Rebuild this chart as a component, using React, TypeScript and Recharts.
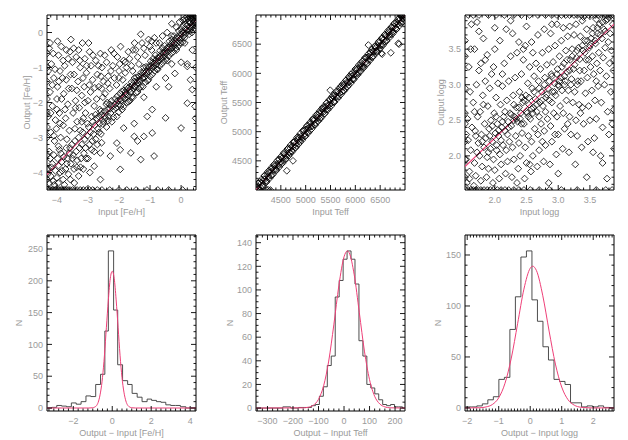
import React from "react";
import { ComposedChart, Scatter, Line, XAxis, YAxis, ReferenceArea } from "recharts";

const INK = "#000";
const LABEL = "#9a9a9a";
const FIT = "#ef3f78";
const STEP = "#3a3a3a";
const FONT = "'Liberation Sans', 'DejaVu Sans', sans-serif";

// ---------- top row: input vs output ----------
const FEH_BAND: [number, number][] = [
  [-4.28,-3.9],[-4.25,-4.3],[-4.22,-3.6],[-4.2,-4.1],[-4.15,-3.75],[-4.12,-4.25],[-4.1,-3.5],[-4.05,-3.95],
  [-4.0,-4.15],[-3.98,-3.6],[-3.95,-3.8],[-3.9,-4.0],[-3.87,-3.45],[-3.85,-3.7],[-3.8,-4.2],[-3.78,-3.55],
  [-3.72,-3.9],[-3.7,-3.3],[-3.66,-3.6],[-3.63,-4.05],[-3.6,-3.45],[-3.55,-3.75],[-3.52,-3.2],[-3.48,-3.5],
  [-3.45,-3.9],[-3.42,-3.1],[-3.38,-3.4],[-3.35,-3.65],[-3.3,-3.0],[-3.27,-3.3],[-3.24,-3.85],[-3.2,-3.2],
  [-3.17,-2.85],[-3.13,-3.45],[-3.1,-3.05],[-3.06,-3.6],[-3.02,-2.95],[-2.98,-2.7],[-2.95,-3.2],[-2.92,-2.85],
  [-2.88,-3.35],[-2.85,-2.55],[-2.82,-2.9],[-2.78,-2.65],[-2.75,-3.05],[-2.72,-2.45],[-2.68,-2.75],[-2.65,-2.4],
  [-2.62,-2.6],[-2.58,-2.9],[-2.55,-2.35],[-2.5,-2.55],[-2.47,-2.25],[-2.44,-2.45],[-2.4,-2.7],[-2.37,-2.2],
  [-2.33,-2.4],[-2.3,-2.05],[-2.27,-2.3],[-2.23,-2.55],[-2.2,-2.1],[-2.17,-2.2],[-2.13,-1.9],[-2.1,-2.15],
  [-2.07,-2.4],[-2.04,-1.95],[-2.0,-2.05],[-1.97,-1.75],[-1.94,-1.95],[-1.9,-2.2],[-1.87,-1.85],[-1.84,-1.65],
  [-1.81,-1.9],[-1.78,-1.75],[-1.75,-2.0],[-1.72,-1.6],[-1.69,-1.8],[-1.66,-1.55],[-1.63,-1.7],[-1.6,-1.85],
  [-1.57,-1.5],[-1.54,-1.6],[-1.51,-1.4],[-1.48,-1.55],[-1.45,-1.72],[-1.42,-1.38],[-1.39,-1.45],[-1.36,-1.25],
  [-1.33,-1.4],[-1.3,-1.55],[-1.27,-1.22],[-1.24,-1.3],[-1.21,-1.12],[-1.18,-1.28],[-1.15,-1.42],[-1.12,-1.1],
  [-1.09,-1.18],[-1.06,-0.98],[-1.03,-1.12],[-1.0,-1.25],[-0.97,-0.95],[-0.94,-1.02],[-0.91,-0.85],[-0.88,-0.98],
  [-0.85,-1.1],[-0.82,-0.8],[-0.79,-0.9],[-0.76,-0.72],[-0.73,-0.82],[-0.7,-0.95],[-0.67,-0.68],[-0.64,-0.75],
  [-0.61,-0.58],[-0.58,-0.7],[-0.55,-0.82],[-0.52,-0.55],[-0.49,-0.6],[-0.46,-0.45],[-0.43,-0.55],[-0.4,-0.68],
  [-0.37,-0.42],[-0.34,-0.48],[-0.31,-0.32],[-0.28,-0.42],[-0.25,-0.55],[-0.22,-0.3],[-0.19,-0.35],[-0.16,-0.18],
  [-0.13,-0.3],[-0.1,-0.4],[-0.07,-0.15],[-0.04,-0.2],[-0.01,-0.05],[0.02,-0.15],[0.05,-0.28],[0.08,0.0],
  [0.1,-0.08],[0.13,0.1],[0.16,-0.02],[0.19,0.2],[0.22,0.05],[0.25,0.3],[0.28,0.15],[0.31,0.4],
  [0.34,0.22],[0.37,0.45],[0.4,0.3],[0.43,0.48],[0.46,0.38],[0.45,0.2],[0.38,0.5],[0.3,0.5],[0.2,0.45],[0.15,0.35],
  [-1.95,-2.1],[-1.8,-1.7],[-1.65,-1.95],[-1.5,-1.3],[-1.35,-1.6],[-1.2,-1.0],[-1.05,-1.35],[-0.9,-0.75],
  [-0.75,-1.05],[-0.6,-0.45],[-0.45,-0.8],[-0.3,-0.2],[-0.15,-0.5],[0.0,0.1],[0.12,-0.3],[0.27,0.05],
  [0.42,0.12],[0.35,0.0],[0.47,0.45],[0.47,0.1],
  [-2.58,-2.25],[-2.52,-2.62],[-2.46,-2.38],[-2.41,-2.05],[-2.35,-2.52],[-2.29,-2.18],[-2.24,-1.95],[-2.18,-2.42],
  [-2.12,-2.05],[-2.06,-1.82],[-2.01,-2.28],[-1.96,-1.9],[-1.91,-1.68],[-1.86,-2.12],[-1.8,-1.78],[-1.76,-1.55],
  [-1.7,-1.98],[-1.65,-1.62],[-1.6,-1.42],[-1.55,-1.85],[-1.5,-1.52],[-1.44,-1.28],[-1.4,-1.7],[-1.34,-1.35],
  [-1.29,-1.15],[-1.23,-1.55],[-1.18,-1.18],[-1.13,-0.98],[-1.08,-1.38],[-1.02,-1.0],[-0.98,-0.82],[-0.93,-1.2],
  [-0.87,-0.88],[-0.83,-0.65],[-0.78,-1.05],[-0.72,-0.72],[-0.68,-0.52],[-0.62,-0.9],[-0.57,-0.58],[-0.53,-0.38],
  [-0.47,-0.75],[-0.42,-0.42],[-0.38,-0.25],[-0.32,-0.6],[-0.27,-0.28],[-0.23,-0.1],[-0.17,-0.45],[-0.12,-0.12],
  [-0.08,0.05],[-0.02,-0.3],[0.03,0.02],[0.07,0.18],[0.11,-0.15],[0.14,0.25],[0.18,0.08],[0.23,0.4],
  [0.26,-0.05],[0.29,0.28],[0.33,0.12],[0.36,0.38],[0.39,0.2],[0.41,0.42],[0.44,0.3],[0.46,0.5],
  [0.47,0.25],[0.32,0.48],[0.24,0.5],[0.12,0.4],[0.05,0.35],
  [-4.3,-4.05],[-4.18,-3.85],[-4.08,-4.35],[-3.96,-4.3],[-3.92,-3.35],[-3.83,-3.95],[-3.76,-4.35],[-3.68,-3.75],
  [-3.57,-4.2],[-3.5,-3.6],[-3.44,-4.3],[-3.36,-3.85],[-3.3,-4.1],[-3.22,-3.6],[-3.15,-3.9],[-3.08,-3.3],
  [-3.0,-3.6],[-2.94,-4.0],[-2.86,-3.1],[-2.8,-3.4],[-2.7,-3.2],[-2.64,-2.85],[-2.56,-3.15],
];

const FEH_SPREAD: [number, number][] = [
  [-4.25,-0.45],[-4.18,-0.9],[-4.1,-1.3],[-4.22,-1.7],[-4.15,-2.1],[-4.05,-2.5],[-4.2,-2.85],[-4.08,-3.1],
  [-4.25,-3.4],[-3.95,-0.65],[-3.9,-1.1],[-3.98,-1.55],[-3.85,-1.9],[-3.92,-2.3],[-3.8,-2.65],[-3.88,-3.0],
  [-3.75,-0.95],[-3.7,-1.35],[-3.78,-1.75],[-3.65,-2.05],[-3.72,-2.45],[-3.6,-2.8],[-3.55,-0.2],[-3.5,-0.85],
  [-3.45,-1.2],[-3.52,-1.6],[-3.4,-1.95],[-3.48,-2.3],[-3.35,-2.55],[-3.3,-0.5],[-3.25,-1.0],[-3.32,-1.4],
  [-3.2,-1.8],[-3.28,-2.15],[-3.15,-2.45],[-3.1,-0.75],[-3.05,-1.15],[-3.12,-1.55],[-3.0,-1.95],[-3.08,-2.3],
  [-2.95,-0.55],[-2.9,-0.95],[-2.85,-1.35],[-2.92,-1.7],[-2.8,-2.1],[-2.75,-0.8],[-2.7,-1.2],[-2.65,-1.55],
  [-2.72,-1.9],[-2.6,-0.6],[-2.55,-1.0],[-2.5,-1.4],[-2.45,-1.75],[-2.4,-0.85],[-2.35,-1.25],[-2.3,-1.6],
  [-2.25,-0.5],[-2.2,-0.95],[-2.15,-1.3],[-2.05,-0.7],[-2.0,-1.1],[-1.95,-0.4],[-1.85,-0.8],[-1.8,-1.15],
  [-1.7,-0.55],[-1.6,-0.95],[-1.5,-0.3],[-1.4,-0.7],[-1.3,-0.05],[-1.2,-0.45],[-1.05,-0.2],[-0.95,-0.5],
  [-0.8,-0.3],[-0.6,-0.1],[-0.45,0.0],[-0.3,-0.1],[-0.15,0.15],[-0.05,0.3],[-0.3,0.25],
  [-4.28,-1.1],[-4.28,-2.4],[-4.12,-0.6],[-4.0,-1.9],[-4.02,-2.75],[-3.95,-3.25],[-3.82,-1.3],[-3.62,-1.6],
  [-3.58,-0.55],[-3.42,-2.75],[-3.38,-0.7],[-3.18,-0.3],[-3.02,-2.6],[-2.88,-2.4],[-2.98,-0.3],[-2.62,-2.2],
  [-2.52,-1.85],[-2.38,-2.0],[-2.78,-1.58],[-2.58,-1.25],[-3.68,-3.05],[-3.58,-3.3],[-3.25,-2.8],
  [-4.22,-0.3],[-4.06,-1.05],[-3.94,-1.4],[-3.86,-0.4],[-3.74,-2.2],[-3.64,-0.75],[-3.56,-1.2],[-3.46,-0.45],
  [-3.36,-1.65],[-3.26,-0.8],[-3.16,-1.3],[-3.04,-0.95],[-2.96,-1.5],[-2.84,-0.65],[-2.76,-2.35],[-2.66,-0.95],
  [-2.56,-1.6],[-2.46,-0.65],[-2.36,-1.45],[-2.26,-1.1],[-2.16,-0.6],[-2.08,-1.5],[-1.98,-0.9],[-1.88,-1.35],
  [-1.76,-1.0],[-1.66,-0.75],[-1.56,-1.1],[-1.46,-0.5],[-1.36,-0.9],[-1.26,-0.3],[-1.16,-0.65],[-1.0,-0.4],
  [-0.86,-0.15],[-0.7,-0.3],[-4.15,-1.5],[-4.0,-2.2],[-3.9,-2.6],[-3.8,-0.8],[-4.1,-2.95],[-4.2,-2.3],
  [-3.98,-0.25],[-3.7,-0.5],[-3.4,-2.15],[-3.2,-2.55],[-3.1,-2.0],
  [-1.85,-2.73],[-1.51,-2.97],[-1.2,-2.97],[-1.4,-3.1],[-0.93,-2.87],[-0.87,-3.53],[-1.3,-3.63],[0.0,-2.73],
  [-0.5,-2.44],[0.2,-2.02],[0.45,-2.11],[0.36,-1.63],[0.3,-1.35],[0.2,-0.97],[0.36,-0.5],[-0.2,-1.17],
  [-0.4,-1.55],[-0.93,-2.2],[-1.09,-2.4],[-2.07,-3.16],[-1.96,-3.35],[-2.28,-3.53],[-2.6,-3.44],[-1.96,-3.91],
  [-2.6,-4.2],[-2.8,-3.82],[-1.62,-3.44],[-1.51,-2.6],[-1.2,-1.85],[-0.8,-1.55],[-0.5,-1.3],[-0.3,-0.9],
  [0.2,-0.9],[0.0,-0.85],[-1.55,-0.5],[-1.8,-0.85],[-2.0,-1.3],[-0.95,-0.25],[0.47,-1.0],[0.47,-2.45],
];

const FEH_EDGE: [number, number][] = [
  [-4.3,-4.5],[-4.25,-4.5],[-4.2,-4.5],[-4.15,-4.5],[-4.1,-4.5],[-4.05,-4.5],[-4.0,-4.5],[-3.95,-4.5],
  [-3.9,-4.5],[-3.85,-4.5],[-3.8,-4.5],[-3.75,-4.5],[-3.7,-4.5],[-3.64,-4.5],[-3.58,-4.5],[-3.5,-4.5],
  [-3.42,-4.5],[-3.35,-4.5],[-3.25,-4.5],[-3.15,-4.5],[-3.05,-4.5],[-2.95,-4.5],[-2.85,-4.5],[-2.7,-4.5],
  [-2.55,-4.5],[-2.3,-4.5],[-2.0,-4.5],[-1.75,-4.5],[-1.45,-4.5],[-1.1,-4.5],[-0.75,-4.5],[-0.4,-4.5],[0.05,-4.5],
  [-4.32,-0.6],[-4.32,-1.0],[-4.32,-1.4],[-4.32,-1.9],[-4.32,-2.3],[-4.32,-2.7],[-4.32,-3.0],[-4.32,-3.5],
  [-4.32,-3.9],[-4.32,-4.2],
];

const FEH_FIT = [{ x: -4.32, y: -4.06 }, { x: 0.48, y: 0.36 }];

const TEFF_IN = [
  4012,4036,4058,4085,4107,4133,4156,4181,4204,4230,4255,4278,4302,4327,4351,4374,4400,4423,4449,4472,
  4498,4521,4545,4570,4593,4618,4641,4667,4690,4716,4739,4763,4788,4811,4836,4860,4884,4909,4932,4957,
  4980,5005,5029,5053,5078,5101,5126,5150,5173,5199,5222,5247,5270,5295,5319,5342,5368,5391,5416,5439,
  5464,5488,5511,5536,5560,5583,5608,5632,5657,5680,5705,5729,5752,5777,5801,5825,5848,5874,5897,5921,
  5946,5969,5994,6018,6041,6066,6090,6113,6138,6162,6186,6209,6234,6257,6282,6306,6330,6353,6378,6402,
  6425,6450,6474,6497,6522,6546,6570,6593,6618,6641,6666,6690,6713,6738,6761,6786,6810,6833,6858,6881,
  6906,6929,6954,6977,6995,
  4025,4070,4120,4170,4215,4265,4312,4360,4410,4458,4507,4555,4605,4652,4700,4748,4797,4845,4893,4942,
  4990,5040,5088,5137,5185,5233,5282,5330,5378,5427,5475,5523,5572,5620,5668,5717,5765,5813,5862,5910,
  5958,6007,6055,6103,6152,6200,6248,6297,6345,6393,6442,6490,6538,6587,6635,6683,6732,6780,6828,6877,
  6925,6973,
  4620,4745,5495,6262,6525,6540,6715,6865,6880,4210,4240,4290,6900,6930,6960,
];
const TEFF_OUT = [
  4052,4026,4118,4050,4122,4078,4186,4186,4159,4280,4235,4303,4242,4372,4346,4409,4360,4433,4419,4527,
  4483,4541,4495,4610,4593,4583,4706,4642,4720,4671,4754,4813,4778,4756,4861,4900,4854,4914,4892,5017,
  4960,5040,4979,5063,5123,5086,5091,5205,5193,5154,5252,5242,5320,5235,5334,5382,5343,5426,5376,5449,
  5449,5543,5481,5561,5510,5628,5608,5597,5687,5660,5765,5684,5767,5817,5746,5845,5838,5924,5862,5946,
  5906,5974,6039,5993,6076,6016,6105,6143,6123,6117,6241,6189,6274,6227,6292,6356,6275,6378,6373,6437,
  6385,6470,6519,6472,6487,6606,6580,6543,6648,6626,6706,6660,6718,6793,6716,6806,6775,6878,6848,6911,
  6866,6979,6934,7002,6980,
  3995,4140,4065,4240,4150,4335,4250,4430,4345,4525,4440,4625,4540,4720,4635,4815,4730,4915,4825,5010,
  4925,5110,5020,5205,5120,5300,5215,5400,5310,5495,5410,5590,5505,5690,5600,5785,5700,5880,5795,5980,
  5890,6075,5990,6170,6085,6270,6180,6365,6280,6460,6375,6560,6470,6655,6570,6750,6665,6850,6760,6945,
  6860,7000,
  4330,4500,5710,6485,6345,6330,6352,6515,6500,4000,4005,4000,7000,7000,6995,
];
const TEFF_EXTRA: [number, number][] = [
  [4040,4115],[4075,3998],[4108,4180],[4140,4068],[4172,4250],[4205,4130],[4238,4312],[4270,4196],[4303,4378],[4336,4262],
  [4369,4442],[4401,4328],[4434,4508],[4467,4392],[4500,4572],[4532,4458],[4565,4640],[4598,4522],[4631,4702],[4663,4588],
  [4696,4770],[4729,4655],[4762,4832],[4794,4722],[4827,4898],[4860,4788],[4893,4968],[4925,4852],[4958,5032],[4991,4918],
  [5024,5098],[5056,4982],[5089,5162],[5122,5048],[5155,5228],[5187,5112],[5220,5292],[5253,5178],[5286,5358],[5318,5242],
  [5351,5422],[5384,5308],[5417,5488],[5449,5376],[5482,5552],[5515,5442],[5548,5618],[5580,5508],[5613,5684],[5646,5572],
  [5679,5752],[5711,5638],[5744,5818],[5777,5702],[5810,5882],[5842,5768],[5875,5948],[5908,5832],[5941,6012],[5973,5898],
  [6006,6078],[6039,5966],[6072,6142],[6104,6032],[6137,6208],[6170,6098],[6203,6272],[6235,6162],[6268,6338],[6301,6228],
  [6334,6408],[6366,6292],[6399,6472],[6432,6358],[6465,6538],[6497,6422],[6530,6602],[6563,6488],[6596,6668],[6628,6552],
  [6661,6732],[6694,6618],[6727,6798],[6759,6686],[6792,6862],[6825,6752],[6858,6928],[6890,6818],[6923,6995],[6956,6882],
  [6990,6962],
];
const TEFF_FIT = [{ x: 4000, y: 4000 }, { x: 7000, y: 7000 }];

const LOGG_POINTS: [number, number][] = [
  [1.56,1.62],[1.6,1.78],[1.55,1.95],[1.62,2.08],[1.58,2.22],[1.64,2.4],[1.57,2.52],[1.61,2.9],[1.59,3.25],[1.63,3.85],[1.55,2.3],[1.6,1.68],
  [1.67,1.58],[1.7,1.72],[1.68,1.9],[1.72,2.05],[1.74,2.18],[1.69,2.35],[1.73,2.55],[1.66,2.75],[1.71,3.0],[1.75,3.2],[1.68,3.5],[1.72,3.88],[1.7,2.28],
  [1.78,1.65],[1.8,1.85],[1.76,2.0],[1.83,2.12],[1.79,2.3],[1.84,2.45],[1.77,2.62],[1.81,2.85],[1.85,3.05],[1.78,3.3],[1.82,3.65],[1.8,2.2],
  [1.87,1.7],[1.9,1.82],[1.88,1.98],[1.93,2.1],[1.86,2.25],[1.91,2.38],[1.94,2.5],[1.89,2.7],[1.92,2.95],[1.95,3.15],[1.88,3.42],[1.9,2.05],
  [1.97,1.62],[2.0,1.8],[1.98,1.95],[2.03,2.08],[1.96,2.2],[2.01,2.32],[2.04,2.45],[1.99,2.6],[2.02,2.82],[2.05,3.02],[1.98,3.25],[2.0,3.5],[2.03,2.15],
  [2.07,1.68],[2.1,1.88],[2.08,2.02],[2.13,2.15],[2.06,2.28],[2.11,2.4],[2.14,2.55],[2.09,2.72],[2.12,2.98],[2.15,3.3],[2.08,3.62],[2.1,2.22],
  [2.17,1.75],[2.2,1.92],[2.18,2.08],[2.23,2.2],[2.16,2.35],[2.21,2.48],[2.24,2.6],[2.19,2.78],[2.22,3.05],[2.25,3.4],[2.18,3.78],[2.2,2.3],
  [2.27,1.7],[2.3,1.95],[2.28,2.12],[2.33,2.28],[2.26,2.42],[2.31,2.55],[2.34,2.68],[2.29,2.85],[2.32,3.1],[2.35,3.45],[2.28,3.72],[2.3,2.5],
  [2.37,1.82],[2.4,2.0],[2.38,2.18],[2.43,2.32],[2.36,2.48],[2.41,2.6],[2.44,2.75],[2.39,2.9],[2.42,3.15],[2.45,3.35],[2.38,3.6],[2.4,2.52],[2.43,2.82],
  [2.47,1.68],[2.5,1.9],[2.48,2.12],[2.53,2.28],[2.46,2.45],[2.51,2.6],[2.54,2.72],[2.49,2.85],[2.52,3.02],[2.55,3.25],[2.48,3.55],[2.5,3.82],[2.53,2.55],
  [2.57,1.78],[2.6,2.0],[2.58,2.2],[2.63,2.38],[2.56,2.52],[2.61,2.68],[2.64,2.8],[2.59,2.95],[2.62,3.12],[2.65,3.3],[2.58,3.6],[2.6,2.6],
  [2.67,1.85],[2.7,2.08],[2.68,2.3],[2.73,2.45],[2.66,2.62],[2.71,2.75],[2.74,2.9],[2.69,3.05],[2.72,3.22],[2.75,3.45],[2.68,3.7],[2.7,2.55],
  [2.77,1.92],[2.8,2.15],[2.78,2.35],[2.83,2.52],[2.76,2.7],[2.81,2.82],[2.84,2.95],[2.79,3.1],[2.82,3.28],[2.85,3.5],[2.78,3.78],[2.8,2.62],
  [2.87,1.88],[2.9,2.2],[2.88,2.42],[2.93,2.6],[2.86,2.78],[2.91,2.9],[2.94,3.02],[2.89,3.15],[2.92,3.32],[2.95,3.55],[2.88,3.72],[2.9,2.75],
  [2.97,2.02],[3.0,2.3],[2.98,2.55],[3.03,2.7],[2.96,2.85],[3.01,2.98],[3.04,3.1],[2.99,3.22],[3.02,3.4],[3.05,3.62],[2.98,3.85],[3.0,3.0],
  [3.07,2.1],[3.1,2.38],[3.08,2.6],[3.13,2.78],[3.06,2.92],[3.11,3.05],[3.14,3.18],[3.09,3.3],[3.12,3.48],[3.15,3.68],[3.08,3.8],[3.1,3.0],
  [3.17,2.05],[3.2,2.3],[3.18,2.55],[3.23,2.75],[3.16,2.92],[3.21,3.08],[3.24,3.22],[3.19,3.35],[3.22,3.5],[3.25,3.7],[3.18,3.82],[3.2,3.0],
  [3.27,1.88],[3.3,2.28],[3.28,2.5],[3.33,2.72],[3.26,2.9],[3.31,3.05],[3.34,3.2],[3.29,3.38],[3.32,3.52],[3.35,3.68],[3.28,3.85],[3.3,3.0],
  [3.37,2.12],[3.4,2.45],[3.38,2.68],[3.43,2.88],[3.36,3.05],[3.41,3.2],[3.44,3.35],[3.39,3.48],[3.42,3.62],[3.45,3.78],[3.38,3.9],
  [3.47,2.2],[3.5,2.5],[3.48,2.7],[3.53,2.92],[3.46,3.1],[3.51,3.25],[3.54,3.4],[3.49,3.52],[3.52,3.65],[3.55,3.8],[3.48,3.35],
  [3.57,2.25],[3.6,2.52],[3.58,2.78],[3.63,2.98],[3.56,3.15],[3.61,3.3],[3.64,3.45],[3.59,3.58],[3.62,3.72],[3.65,3.85],[3.6,3.05],
  [3.67,2.0],[3.7,2.4],[3.68,2.75],[3.73,3.0],[3.66,3.2],[3.71,3.38],[3.74,3.52],[3.69,3.65],[3.72,3.78],[3.75,3.9],
  [3.77,1.68],[3.8,2.3],[3.78,2.62],[3.83,2.9],[3.76,3.12],[3.81,3.3],[3.84,3.48],[3.79,3.6],[3.82,3.72],[3.86,3.85],[3.87,3.2],[3.88,2.1],
  [3.88,2.65],[3.88,3.35],
  [1.92,2.28],[1.96,2.42],[2.02,2.55],[2.06,2.36],[2.12,2.48],[2.16,2.62],[2.22,2.4],[2.26,2.58],[2.3,2.72],[2.34,2.52],
  [2.38,2.68],[2.42,2.45],[2.46,2.78],[2.5,2.62],[2.54,2.82],[2.58,2.66],[2.62,2.9],[2.66,2.72],[2.7,2.95],[2.74,2.78],
  [2.78,3.0],[2.82,2.86],[2.86,3.05],[2.9,3.12],[2.94,2.9],[2.98,3.15],[3.02,3.05],[3.06,3.25],[3.1,3.12],[3.14,3.35],
  [3.18,3.2],[3.22,3.4],[3.26,3.28],[3.3,3.48],[3.34,3.36],[3.38,3.55],[3.42,3.45],[3.46,3.62],[3.5,3.55],[3.54,3.72],
  [3.58,3.62],[3.62,3.8],[3.66,3.7],[3.7,3.88],[3.74,3.75],[3.78,3.92],
  [1.62,3.5],[1.75,3.75],[1.85,3.35],[2.0,3.8],[2.25,3.9],[2.45,3.5],[2.35,1.62],[2.55,1.88],[2.75,2.2],[2.95,2.3],
  [3.15,2.45],[3.35,2.6],[3.55,2.05],[3.7,1.9],[3.85,2.45],[2.85,1.62],[3.0,1.75],[3.45,1.7],[1.68,2.62],[1.82,2.72],
  [2.12,3.15],[2.6,3.45],[2.9,3.85],[3.4,3.95],[3.6,3.92],[3.8,3.95],
];
const LOGG_EDGE: [number, number][] = [
  [1.58,3.98],[1.66,3.98],[1.75,3.98],[1.9,3.98],[2.02,3.98],[2.15,3.98],[2.3,3.98],[2.42,3.98],[2.55,3.98],[2.68,3.98],
  [2.8,3.98],[2.9,3.98],[2.98,3.98],[3.05,3.98],[3.12,3.98],[3.18,3.98],[3.25,3.98],[3.3,3.98],[3.36,3.98],[3.42,3.98],
  [3.48,3.98],[3.53,3.98],[3.58,3.98],[3.63,3.98],[3.68,3.98],[3.72,3.98],[3.76,3.98],[3.8,3.98],[3.84,3.98],[3.87,3.98],
  [1.54,1.52],[1.58,1.52],[1.62,1.52],[1.66,1.52],[1.7,1.52],[1.74,1.52],[1.78,1.52],[1.83,1.52],[1.88,1.52],[1.93,1.52],
  [1.98,1.52],[2.04,1.52],[2.1,1.52],[2.16,1.52],[2.22,1.52],[2.3,1.52],[2.38,1.52],[2.46,1.52],[2.56,1.52],[2.7,1.52],
  [2.86,1.52],[3.05,1.52],[3.3,1.52],[3.6,1.52],[3.75,1.52],[3.85,1.52],
  [1.53,1.7],[1.53,1.95],[1.53,2.2],[1.53,2.45],[1.53,2.6],[1.53,2.95],[1.53,3.4],[1.53,3.62],
];
const LOGG_FIT = [{ x: 1.53, y: 1.85 }, { x: 3.88, y: 3.85 }];

// ---------- bottom row: histograms of output - input ----------
const FEH_BIN = [-3.35,-3.1,-2.85,-2.6,-2.35,-2.1,-1.85,-1.6,-1.35,-1.1,-0.85,-0.6,-0.38,-0.2,0.07,0.28,0.53,0.79,1.02,1.28,1.53,1.79,2.02,2.27,2.5,2.75,3.0,3.25,3.5,3.78];
const FEH_N = [0,1,4,3,2,8,6,10,19,18,37,53,121,247,154,68,43,37,23,17,10,14,12,10,9,5,4,4,2,0];
const FEH_GX = [-3.35,-1.2,-1.0,-0.9,-0.8,-0.7,-0.6,-0.5,-0.4,-0.3,-0.2,-0.1,0,0.1,0.2,0.3,0.4,0.5,0.6,0.7,0.8,0.9,1.0,1.2,4.3];
const FEH_GY = [0,0,0.4,1.5,4,11,25,48,83,127,170,204,215,204,170,127,83,48,25,11,4,1.5,0.4,0,0];

const TEFF_BIN = [-345,-240,-209,-178,-143,-127.5,-112,-96.5,-81,-65.5,-50,-34.5,-19,-3.5,12,27.5,43,58.5,74,89.5,105,120.5,136,151.5,167,182.5,198,213.5,229];
const TEFF_N = [0,1,0,0.5,0.5,2,3,10,18,36,44,94,108,126,133,126,105,57,44,20,17,12,7,3,2,3,1,1,0];
const TEFF_GX = [-345,-160,-140,-120,-100,-80,-60,-40,-20,0,13,20,40,60,80,100,120,140,160,180,239];
const TEFF_GY = [0,0.15,0.7,2.4,7.4,18.8,39.8,70.4,104,128,133,131.5,112.8,80.7,48.2,24,10,3.5,1,0.2,0];

const LOGG_BIN = [-2.07,-1.87,-1.695,-1.52,-1.345,-1.17,-0.995,-0.82,-0.645,-0.47,-0.295,-0.12,0.055,0.23,0.405,0.58,0.755,0.93,1.105,1.28,1.455,1.63,1.805,1.98,2.155,2.33,2.505];
const LOGG_N = [1,1,2,4,8,11,28,30,77,109,148,154,106,85,60,47,28,26,23,5,5,1,2,1,2,0.5,0];
const LOGG_GX = [-2.07,-1.6,-1.4,-1.2,-1.0,-0.8,-0.6,-0.4,-0.2,0,0.08,0.2,0.4,0.6,0.8,1.0,1.2,1.4,1.6,1.8,2.0,2.66];
const LOGG_GY = [0,0.2,1.0,3.4,9.9,24.2,48.9,82.6,116.5,137,139,134.6,110,75.4,43,20.5,8.1,2.7,0.7,0.2,0,0];

// ---------- helpers ----------
const pairs = (pts: [number, number][]) => pts.map(([x, y]) => ({ x, y }));
const zip = (xs: number[], ys: number[]) => xs.map((x, i) => ({ x, y: ys[i] }));
const steps = (edges: number[], counts: number[], end: number) =>
  [...zip(edges, counts), { x: end, y: counts[counts.length - 1] }];

function tickRange(lo: number, hi: number, step: number) {
  const out: number[] = [];
  const start = Math.ceil(lo / step - 1e-9) * step;
  for (let v = start; v <= hi + 1e-9; v += step) {
    const r = Math.round(v * 1e6) / 1e6;
    if (r > lo + 1e-6 && r < hi - 1e-6) out.push(r);
  }
  return out;
}

function fmt(v: number, digits: number) {
  const s = Math.abs(v).toFixed(digits);
  return v < -1e-9 ? "\u2212" + s : s;
}

const isMajor = (v: number, majors: number[]) => majors.some((m) => Math.abs(m - v) < 1e-6);

function XTick(props: any) {
  const { x, y, payload, majors, plotH, digits } = props;
  const v = payload.value;
  const major = isMajor(v, majors);
  const len = major ? 5 : 2.5;
  return (
    <g>
      <line x1={x} x2={x} y1={y} y2={y - len} stroke={INK} strokeWidth={0.9} />
      <line x1={x} x2={x} y1={y - plotH} y2={y - plotH + len} stroke={INK} strokeWidth={0.9} />
      {major && (
        <text x={x} y={y + 12.5} textAnchor="middle" fontSize={9} fontFamily={FONT} fill={LABEL}>
          {fmt(v, digits)}
        </text>
      )}
    </g>
  );
}

function YTick(props: any) {
  const { x, y, payload, majors, plotW, digits } = props;
  const v = payload.value;
  const major = isMajor(v, majors);
  const len = major ? 5 : 2.5;
  return (
    <g>
      <line x1={x} x2={x + len} y1={y} y2={y} stroke={INK} strokeWidth={0.9} />
      <line x1={x + plotW} x2={x + plotW - len} y1={y} y2={y} stroke={INK} strokeWidth={0.9} />
      {major && (
        <text x={x - 4} y={y + 3.2} textAnchor="end" fontSize={9} fontFamily={FONT} fill={LABEL}>
          {fmt(v, digits)}
        </text>
      )}
    </g>
  );
}

function AxisTitle(props: any) {
  const { viewBox, text, kind, gap } = props;
  if (!viewBox) return null;
  if (kind === "x") {
    const cx = viewBox.x + viewBox.width / 2;
    return (
      <text x={cx} y={viewBox.y + 24.5} textAnchor="middle" fontSize={9} fontFamily={FONT} fill={LABEL}>
        {text}
      </text>
    );
  }
  const cx = viewBox.x + viewBox.width - gap;
  const cy = viewBox.y + viewBox.height / 2;
  return (
    <text x={cx} y={cy} transform={`rotate(-90 ${cx} ${cy})`} textAnchor="middle" dominantBaseline="central"
      fontSize={9} fontFamily={FONT} fill={LABEL}>
      {text}
    </text>
  );
}

const Diamond = (p: any) => {
  const { cx, cy } = p;
  if (cx == null || cy == null) return <g />;
  const r = 3.4;
  return (
    <path d={`M${cx},${cy - r}L${cx + r},${cy}L${cx},${cy + r}L${cx - r},${cy}Z`} fill="none" stroke={INK} strokeWidth={0.8} />
  );
};

type PanelProps = {
  box: [number, number, number, number];
  xDomain: [number, number];
  yDomain: [number, number];
  xMajors: number[];
  yMajors: number[];
  xMinor: number;
  yMinor: number;
  xDigits?: number;
  yDigits?: number;
  xTitle: string;
  yTitle: string;
  yGap: number;
  children: React.ReactNode;
};

function Panel({ box, xDomain, yDomain, xMajors, yMajors, xMinor, yMinor, xDigits = 0, yDigits = 0, xTitle, yTitle, yGap, children }: PanelProps) {
  const [bx, by, w, h] = box;
  const xTicks = tickRange(xDomain[0], xDomain[1], xMinor);
  const yTicks = tickRange(yDomain[0], yDomain[1], yMinor);
  return (
    <div style={{ position: "absolute", left: bx - 45, top: by - 5 }}>
      <ComposedChart width={w + 50} height={h + 40} margin={{ top: 5, right: 5, bottom: 5, left: 5 }}>
        <XAxis
          type="number"
          dataKey="x"
          domain={xDomain}
          allowDataOverflow
          ticks={xTicks}
          interval={0}
          tickLine={false}
          axisLine={false}
          tickSize={0}
          tickMargin={0}
          height={30}
          tick={<XTick majors={xMajors} plotH={h} digits={xDigits} />}
          label={<AxisTitle kind="x" text={xTitle} />}
        />
        <YAxis
          type="number"
          dataKey="y"
          domain={yDomain}
          allowDataOverflow
          ticks={yTicks}
          interval={0}
          tickLine={false}
          axisLine={false}
          tickSize={0}
          tickMargin={0}
          width={40}
          tick={<YTick majors={yMajors} plotW={w} digits={yDigits} />}
          label={<AxisTitle kind="y" text={yTitle} gap={yGap} />}
        />
        {children}
        <ReferenceArea x1={xDomain[0]} x2={xDomain[1]} y1={yDomain[0]} y2={yDomain[1]} fill="none" fillOpacity={0}
          stroke={INK} strokeWidth={1} ifOverflow="visible" />
      </ComposedChart>
    </div>
  );
}

const COL = [47, 256, 465];
const ROW = [15, 235];
const W = 149;
const H = [175, 176];

export default function App() {
  const feh = [...pairs(FEH_BAND), ...pairs(FEH_SPREAD), ...pairs(FEH_EDGE)];
  const teff = [...zip(TEFF_IN, TEFF_OUT), ...pairs(TEFF_EXTRA)];
  const logg = [...pairs(LOGG_POINTS), ...pairs(LOGG_EDGE)];
  return (
    <div style={{ position: "fixed", left: 0, top: 0, width: 628, height: 440, background: "#fff", overflow: "hidden" }}>
      <Panel box={[COL[0], ROW[0], W, H[0]]} xDomain={[-4.32, 0.48]} yDomain={[-4.5, 0.5]}
        xMajors={[-4, -3, -2, -1, 0]} yMajors={[-4, -3, -2, -1, 0]} xMinor={0.2} yMinor={0.2}
        xTitle="Input [Fe/H]" yTitle="Output [Fe/H]" yGap={20}>
        <Scatter data={feh} shape={Diamond} isAnimationActive={false} />
        <Line data={FEH_FIT} dataKey="y" type="linear" stroke={FIT} strokeWidth={1.2} dot={false} activeDot={false} isAnimationActive={false} />
      </Panel>
      <Panel box={[COL[1], ROW[0], W, H[0]]} xDomain={[4000, 7000]} yDomain={[4000, 7000]}
        xMajors={[4500, 5000, 5500, 6000, 6500]} yMajors={[4500, 5000, 5500, 6000, 6500]} xMinor={100} yMinor={100}
        xTitle="Input Teff" yTitle="Output Teff" yGap={32}>
        <Scatter data={teff} shape={Diamond} isAnimationActive={false} />
        <Line data={TEFF_FIT} dataKey="y" type="linear" stroke={FIT} strokeWidth={1.2} dot={false} activeDot={false} isAnimationActive={false} />
      </Panel>
      <Panel box={[COL[2], ROW[0], W, H[0]]} xDomain={[1.53, 3.88]} yDomain={[1.52, 3.98]}
        xMajors={[2, 2.5, 3, 3.5]} yMajors={[2, 2.5, 3, 3.5]} xMinor={0.1} yMinor={0.1} xDigits={1} yDigits={1}
        xTitle="Input logg" yTitle="Output logg" yGap={24}>
        <Scatter data={logg} shape={Diamond} isAnimationActive={false} />
        <Line data={LOGG_FIT} dataKey="y" type="linear" stroke={FIT} strokeWidth={1.2} dot={false} activeDot={false} isAnimationActive={false} />
      </Panel>

      <Panel box={[COL[0], ROW[1], W, H[1]]} xDomain={[-3.35, 4.3]} yDomain={[-4.7, 272]}
        xMajors={[-2, 0, 2, 4]} yMajors={[0, 50, 100, 150, 200, 250]} xMinor={0.25} yMinor={10}
        xTitle="Output − Input [Fe/H]" yTitle="N" yGap={28}>
        <Line data={steps(FEH_BIN, FEH_N, 4.3)} dataKey="y" type="stepAfter" stroke={STEP} strokeWidth={0.9} dot={false} activeDot={false} isAnimationActive={false} />
        <Line data={zip(FEH_GX, FEH_GY)} dataKey="y" type="monotone" stroke={FIT} strokeWidth={1} dot={false} activeDot={false} isAnimationActive={false} />
      </Panel>
      <Panel box={[COL[1], ROW[1], W, H[1]]} xDomain={[-345, 239]} yDomain={[-2.5, 146.5]}
        xMajors={[-300, -200, -100, 0, 100, 200]} yMajors={[0, 20, 40, 60, 80, 100, 120, 140]} xMinor={20} yMinor={5}
        xTitle="Output − Input Teff" yTitle="N" yGap={26}>
        <Line data={steps(TEFF_BIN, TEFF_N, 239)} dataKey="y" type="stepAfter" stroke={STEP} strokeWidth={0.9} dot={false} activeDot={false} isAnimationActive={false} />
        <Line data={zip(TEFF_GX, TEFF_GY)} dataKey="y" type="monotone" stroke={FIT} strokeWidth={1} dot={false} activeDot={false} isAnimationActive={false} />
      </Panel>
      <Panel box={[COL[2], ROW[1], W, H[1]]} xDomain={[-2.07, 2.66]} yDomain={[-3, 169.6]}
        xMajors={[-2, -1, 0, 1, 2]} yMajors={[0, 50, 100, 150]} xMinor={0.1} yMinor={10}
        xTitle="Output − Input logg" yTitle="N" yGap={27}>
        <Line data={steps(LOGG_BIN, LOGG_N, 2.66)} dataKey="y" type="stepAfter" stroke={STEP} strokeWidth={0.9} dot={false} activeDot={false} isAnimationActive={false} />
        <Line data={zip(LOGG_GX, LOGG_GY)} dataKey="y" type="monotone" stroke={FIT} strokeWidth={1} dot={false} activeDot={false} isAnimationActive={false} />
      </Panel>
    </div>
  );
}
